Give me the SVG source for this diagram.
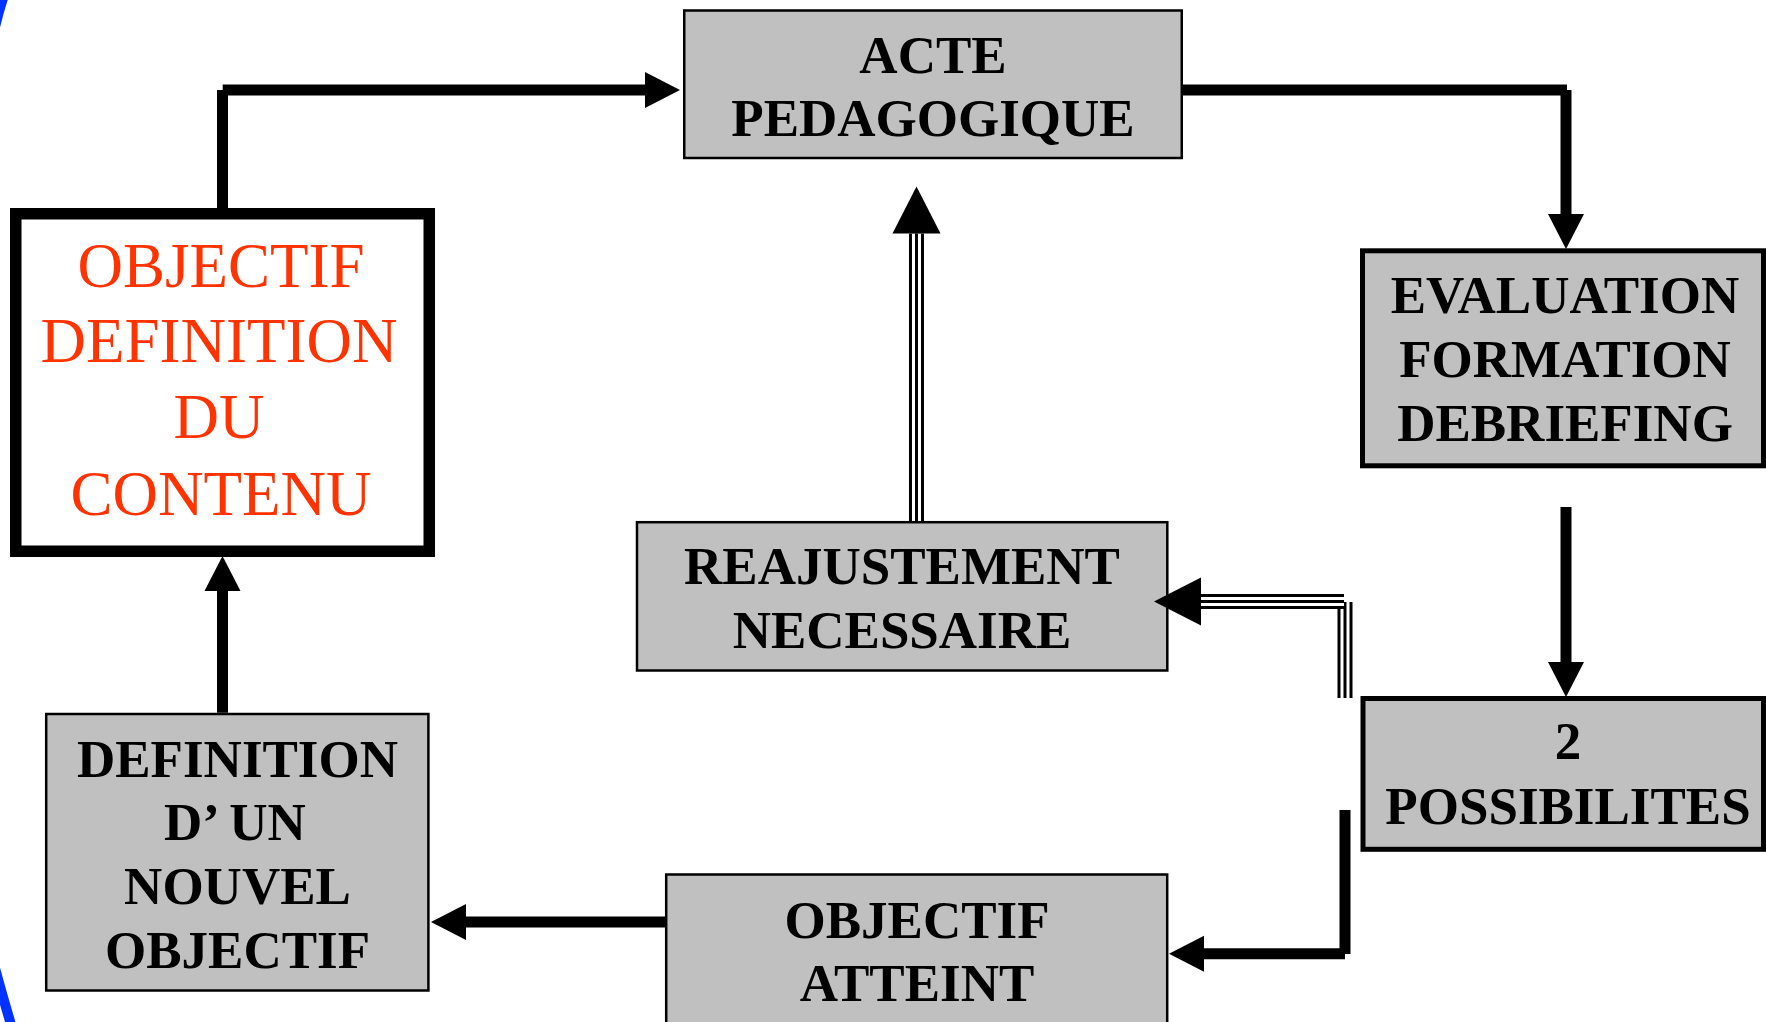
<svg xmlns="http://www.w3.org/2000/svg" width="1766" height="1022" viewBox="0 0 1766 1022">
<style>
.box{fill:#c0c0c0;stroke:#000;stroke-width:2.5}
.boxb{fill:#c0c0c0;stroke:#000;stroke-width:5}
.lbl{font-family:"Liberation Serif","Times New Roman",serif;font-weight:bold;font-size:53px;text-anchor:middle;fill:#000}
.red{font-family:"Liberation Serif","Times New Roman",serif;font-size:63px;text-anchor:middle;fill:#ff3300}
.thick{stroke:#000;stroke-width:11;fill:none;stroke-linecap:butt}
.t1{stroke:#000;stroke-width:15;fill:none}
.t2{stroke:#fff;stroke-width:9;fill:none}
.t3{stroke:#000;stroke-width:3;fill:none}
.blue{stroke:#0033ff;stroke-width:10;fill:none}
</style>
<defs>
<marker id="ah" markerUnits="userSpaceOnUse" markerWidth="40" markerHeight="40" viewBox="0 -20 36 40" refX="0" refY="0" orient="auto" overflow="visible">
<path d="M0,-18 L35,0 L0,18 Z" fill="#000"/>
</marker>
<marker id="ahb" markerUnits="userSpaceOnUse" markerWidth="50" markerHeight="50" viewBox="0 -25 48 50" refX="0" refY="0" orient="auto" overflow="visible">
<path d="M0,-24 L47,0 L0,24 Z" fill="#000"/>
</marker>
</defs>
<rect width="1766" height="1022" fill="#fff"/>
<g id="frame">
<path class="blue" d="M-9,45 C-5,25 -1,10 5,-8"/>
<path class="blue" d="M-12,940 C-4,975 4,1000 14,1035"/>
</g>
<g id="acte">
<rect class="box" x="684.25" y="10.5" width="497.5" height="147.5"/>
<text class="lbl" x="933" y="72.7">ACTE</text>
<text class="lbl" x="933" y="136">PEDAGOGIQUE</text>
</g>
<g id="objectif-contenu">
<rect x="15.75" y="213.75" width="413.5" height="337.5" fill="#fff" stroke="#000" stroke-width="11.5"/>
<text class="red" x="221" y="286.7">OBJECTIF</text>
<text class="red" x="219" y="361.7">DEFINITION</text>
<text class="red" x="219" y="438.3">DU</text>
<text class="red" x="221" y="514.5">CONTENU</text>
</g>
<g id="evaluation">
<rect class="boxb" x="1362.5" y="250.8" width="401" height="215"/>
<text class="lbl" x="1565" y="313.3">EVALUATION</text>
<text class="lbl" x="1565" y="376.7">FORMATION</text>
<text class="lbl" x="1565" y="440.7">DEBRIEFING</text>
</g>
<g id="reajustement">
<rect class="box" x="637" y="522.2" width="530.3" height="148.3"/>
<text class="lbl" x="902" y="584.3">REAJUSTEMENT</text>
<text class="lbl" x="902" y="647.7">NECESSAIRE</text>
</g>
<g id="possibilites">
<rect class="boxb" x="1363" y="698.5" width="400.5" height="150.8"/>
<text class="lbl" x="1568" y="759.3">2</text>
<text class="lbl" x="1568" y="824.3">POSSIBILITES</text>
</g>
<g id="nouvel-objectif">
<rect class="box" x="46.2" y="714" width="382.2" height="276.5"/>
<text class="lbl" x="237.5" y="776.7">DEFINITION</text>
<text class="lbl" x="235" y="840.3">D’ UN</text>
<text class="lbl" x="237.5" y="904.3">NOUVEL</text>
<text class="lbl" x="237.5" y="968.3">OBJECTIF</text>
</g>
<g id="objectif-atteint">
<rect class="box" x="666.2" y="874.5" width="501" height="200"/>
<text class="lbl" x="917" y="937.5">OBJECTIF</text>
<text class="lbl" x="917" y="1001">ATTEINT</text>
</g>
<g id="connectors">
<line class="thick" x1="222.5" y1="208" x2="222.5" y2="90"/>
<line class="thick" x1="222.7" y1="90" x2="645" y2="90" marker-end="url(#ah)"/>
<line class="thick" x1="1183" y1="90" x2="1567" y2="90"/>
<line class="thick" x1="1566" y1="90" x2="1566" y2="214" marker-end="url(#ah)"/>
<line class="thick" x1="1566" y1="507" x2="1566" y2="662" marker-end="url(#ah)"/>
<line class="thick" x1="1345" y1="810" x2="1345" y2="954"/>
<line class="thick" x1="1345" y1="953.8" x2="1204" y2="953.8" marker-end="url(#ah)"/>
<line class="thick" x1="665" y1="922" x2="466" y2="922" marker-end="url(#ah)"/>
<line class="thick" x1="222.5" y1="712.7" x2="222.5" y2="591" marker-end="url(#ah)"/>
<g id="triple-reajust">
<line class="t1" x1="1345" y1="698" x2="1345" y2="602"/>
<line class="t2" x1="1345" y1="698" x2="1345" y2="602"/>
<line class="t3" x1="1345" y1="698" x2="1345" y2="602"/>
<line class="t1" x1="1344" y1="601.5" x2="1201" y2="601.5"/>
<line class="t2" x1="1344" y1="601.5" x2="1201" y2="601.5"/>
<line class="t3" x1="1344" y1="601.5" x2="1201" y2="601.5" marker-end="url(#ahb)"/>
</g>
<g id="triple-acte">
<line class="t1" x1="916.5" y1="521" x2="916.5" y2="233.5"/>
<line class="t2" x1="916.5" y1="521" x2="916.5" y2="233.5"/>
<line class="t3" x1="916.5" y1="521" x2="916.5" y2="233.5" marker-end="url(#ahb)"/>
</g>
</g>
</svg>
